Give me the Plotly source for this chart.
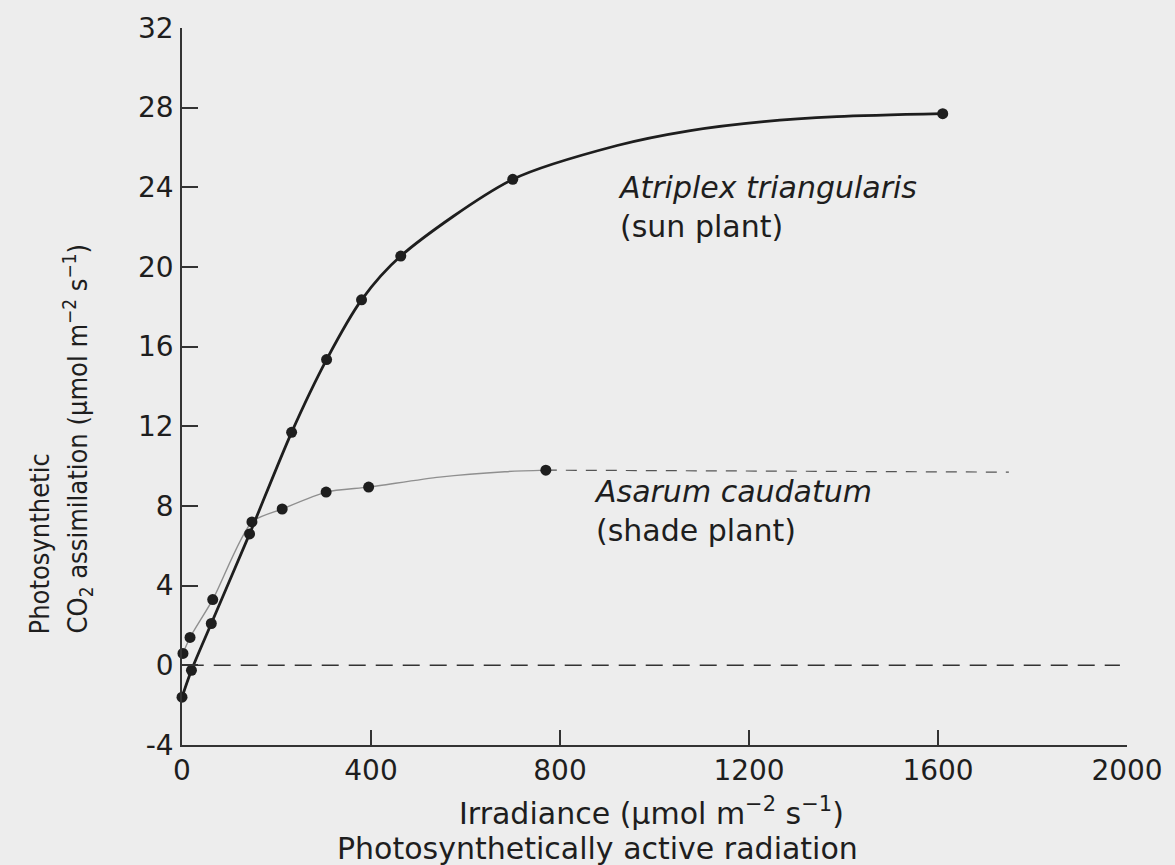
import plotly.graph_objects as go

# Atriplex triangularis (sun plant) - measured points
sun_x = [0, 20, 62, 143, 232, 306, 380, 463, 700, 1610]
sun_y = [-1.6, -0.25, 2.1, 6.6, 11.7, 15.35, 18.35, 20.55, 24.4, 27.7]

# sun plant fitted curve as drawn
sun_curve_x = [0, 20, 62, 143, 232, 306, 380, 463, 700, 921, 1076, 1231, 1386, 1610]
sun_curve_y = [-1.6, -0.25, 2.1, 6.6, 11.7, 15.35, 18.35, 20.55, 24.4, 26.1, 26.85, 27.3, 27.55, 27.7]

# Asarum caudatum (shade plant) - measured points
shade_x = [2, 17, 65, 148, 212, 305, 395, 770]
shade_y = [0.6, 1.4, 3.3, 7.2, 7.85, 8.7, 8.95, 9.8]

# shade plant fitted curve as drawn
shade_curve_x = [2, 17, 65, 148, 212, 305, 395, 545, 683, 770]
shade_curve_y = [0.6, 1.4, 3.3, 7.2, 7.85, 8.7, 8.95, 9.45, 9.72, 9.8]

# dashed extension of shade curve
shade_ext_x = [770, 1750]
shade_ext_y = [9.8, 9.7]

# zero reference line
zero_x = [10, 1985]
zero_y = [0, 0]

x_ticks = [0, 400, 800, 1200, 1600, 2000]
y_ticks = [-4, 0, 4, 8, 12, 16, 20, 24, 28, 32]

BG = "#ededed"
INK = "#1e1e1e"
FONT = "DejaVu Sans"
NARROW = "Liberation Sans Narrow, DejaVu Sans Condensed, Liberation Sans"

ML, MR, MT, MB = 182, 38, 25, 120
W, H = 1175, 865
PW = W - ML - MR
PH = H - MT - MB

fig = go.Figure()

fig.add_trace(go.Scatter(x=zero_x, y=zero_y, mode="lines",
                         line=dict(color="#333333", width=1.5, dash="17px,10px"),
                         hoverinfo="skip", showlegend=False, cliponaxis=False))

fig.add_trace(go.Scatter(x=shade_ext_x, y=shade_ext_y, mode="lines",
                         line=dict(color="#555555", width=1.2, dash="11px,9px"),
                         showlegend=False, cliponaxis=False))

fig.add_trace(go.Scatter(x=shade_curve_x, y=shade_curve_y, mode="lines",
                         line=dict(color="#8f8f8f", width=1.4, shape="spline", smoothing=0.7),
                         showlegend=False, cliponaxis=False))

fig.add_trace(go.Scatter(x=sun_curve_x, y=sun_curve_y, mode="lines",
                         line=dict(color=INK, width=2.8, shape="spline", smoothing=0.8),
                         showlegend=False, cliponaxis=False))

fig.add_trace(go.Scatter(x=shade_x, y=shade_y, mode="markers",
                         marker=dict(color=INK, size=11, line=dict(width=0)),
                         name="Asarum caudatum", showlegend=False, cliponaxis=False))

fig.add_trace(go.Scatter(x=sun_x, y=sun_y, mode="markers",
                         marker=dict(color=INK, size=11, line=dict(width=0)),
                         name="Atriplex triangularis", showlegend=False, cliponaxis=False))

fig.update_xaxes(range=[0, 2000], tickvals=x_ticks, ticktext=[str(v) for v in x_ticks],
                 showline=True, linecolor="#333333", linewidth=1.6,
                 ticks="inside", ticklen=15, tickwidth=1.5, tickcolor="#333333",
                 showgrid=False, zeroline=False,
                 tickfont=dict(family=FONT, size=28, color=INK))
fig.update_yaxes(range=[-4, 32], tickvals=y_ticks, ticktext=[str(v) for v in y_ticks],
                 showline=True, linecolor="#333333", linewidth=1.6,
                 ticks="inside", ticklen=16, tickwidth=1.5, tickcolor="#333333",
                 showgrid=False, zeroline=False, ticklabelstandoff=1,
                 tickfont=dict(family=FONT, size=28, color=INK))


def px(xp):
    return (xp - ML) / float(PW)


def py(yp):
    return (H - MB - yp) / float(PH)


annotations = [
    dict(x=px(38), y=py(636), xref="paper", yref="paper", text="Photosynthetic",
         textangle=-90, showarrow=False, xanchor="center", yanchor="bottom",
         font=dict(family=NARROW, size=27, color=INK)),
    dict(x=px(76), y=py(438), xref="paper", yref="paper",
         text="CO<sub>2</sub> assimilation (μmol m<sup>−2</sup> s<sup>−1</sup>)",
         textangle=-90, showarrow=False, xanchor="center", yanchor="middle",
         font=dict(family=NARROW, size=27, color=INK)),
    dict(x=px(656), y=py(812), xref="paper", yref="paper",
         text="Irradiance (μmol m<sup>−2</sup> s<sup>−1</sup>)",
         showarrow=False, xanchor="center", yanchor="middle",
         font=dict(family=FONT, size=30, color=INK)),
    dict(x=px(602), y=py(849), xref="paper", yref="paper",
         text="Photosynthetically active radiation",
         showarrow=False, xanchor="center", yanchor="middle",
         font=dict(family=FONT, size=30, color=INK)),
    dict(x=px(621), y=py(205), xref="paper", yref="paper",
         text="<i>Atriplex triangularis</i><br>(sun plant)", align="left",
         showarrow=False, xanchor="left", yanchor="middle",
         font=dict(family=FONT, size=30, color=INK)),
    dict(x=px(596), y=py(510), xref="paper", yref="paper",
         text="<i>Asarum caudatum</i><br>(shade plant)", align="left",
         showarrow=False, xanchor="left", yanchor="middle",
         font=dict(family=FONT, size=30, color=INK)),
]

fig.update_layout(width=W, height=H, autosize=False,
                  margin=dict(l=ML, r=MR, t=MT, b=MB),
                  paper_bgcolor=BG, plot_bgcolor=BG,
                  showlegend=False, annotations=annotations)

fig.write_html("out.html")
